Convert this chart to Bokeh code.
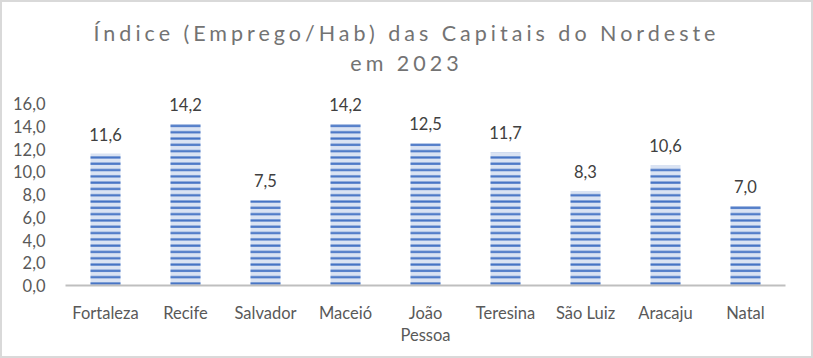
from bokeh.plotting import figure
from bokeh.models import ColumnDataSource, FixedTicker, CustomJSTickFormatter, Div, LabelSet, FactorRange, Range1d
from bokeh.core.properties import value
from bokeh.layouts import column
from bokeh.embed import file_html
from bokeh.resources import INLINE

categories = ["Fortaleza", "Recife", "Salvador", "Maceió", "João\nPessoa",
              "Teresina", "São Luiz", "Aracaju", "Natal"]
values = [11.6, 14.2, 7.5, 14.2, 12.5, 11.7, 8.3, 10.6, 7.0]
value_labels = [f"{v:.1f}".replace(".", ",") for v in values]
y_ticks = [0, 2, 4, 6, 8, 10, 12, 14, 16]
title_lines = ["Índice (Emprego/Hab) das Capitais do Nordeste", "em 2023"]

FONT = "Lato"

src = ColumnDataSource(dict(cat=categories, val=values, lab=value_labels))

title_div = Div(
    text=('<div style="font-family: Lato, sans-serif; font-size: 21.5px; letter-spacing: 4px; '
          'color: #737373; text-align: center; line-height: 30px; padding-top: 16px; width: 809px;">'
          + title_lines[0] + "<br>" + title_lines[1] + "</div>"),
    width=809, height=82, margin=0,
)

p = figure(width=809, height=272, x_range=FactorRange(*categories), y_range=Range1d(0, 17.5),
           output_backend="svg", toolbar_location=None, tools="",
           min_border_left=63, min_border_right=26, min_border_top=2, min_border_bottom=71,
           margin=0)
p.outline_line_color = None
p.background_fill_color = "white"
p.border_fill_color = "white"
p.xgrid.grid_line_color = None
p.ygrid.grid_line_color = None

p.vbar(x="cat", top="val", width=0.375, source=src, fill_color="#dae3f3",
       line_color=None, hatch_pattern="horizontal_line", hatch_color="#4472c4",
       hatch_scale=6.3, hatch_weight=2.2)

labels = LabelSet(x="cat", y="val", text="lab", source=src, text_align="center",
                  text_baseline="bottom", y_offset=13, text_font=value(FONT),
                  text_font_size=value("16.5px"), text_color=value("#404040"))
p.add_layout(labels)

p.yaxis.ticker = FixedTicker(ticks=y_ticks)
p.yaxis.formatter = CustomJSTickFormatter(code="return tick.toFixed(1).replace('.', ',');")
p.yaxis.axis_line_color = None
p.yaxis.major_tick_line_color = None
p.yaxis.minor_tick_line_color = None
p.yaxis.major_label_standoff = 14
p.yaxis.major_label_text_font = FONT
p.yaxis.major_label_text_font_size = "16.5px"
p.yaxis.major_label_text_color = "#595959"

p.xaxis.axis_line_color = "#bfbfbf"
p.xaxis.axis_line_width = 2
p.xaxis.major_tick_line_color = None
p.xaxis.minor_tick_line_color = None
p.xaxis.major_label_standoff = 11
p.xaxis.major_label_text_font = FONT
p.xaxis.major_label_text_font_size = "16.5px"
p.xaxis.major_label_text_color = "#595959"
p.xaxis.major_label_text_line_height = 1.1

layout = column(title_div, p, width=813, height=358, margin=0,
                styles={"border": "2px solid #d9d9d9", "box-sizing": "border-box",
                        "background-color": "white"})

open("out.html", "w").write(file_html(layout, INLINE))
